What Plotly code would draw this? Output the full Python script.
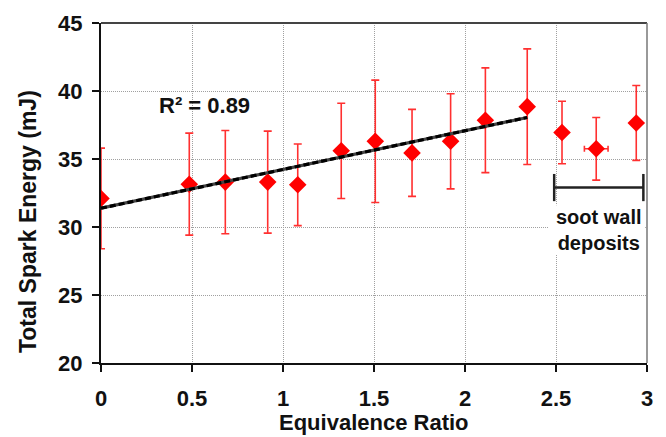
import numpy as np
import plotly.graph_objects as go

# ---- data ----
phi = [0.0, 0.485, 0.683, 0.916, 1.081, 1.32, 1.507, 1.709, 1.921, 2.112, 2.342, 2.533, 2.721, 2.941]
energy = [32.1, 33.15, 33.3, 33.3, 33.1, 35.6, 36.3, 35.45, 36.3, 37.85, 38.85, 36.95, 35.75, 37.65]
energy_err = [3.7, 3.75, 3.8, 3.75, 3.0, 3.5, 4.5, 3.2, 3.5, 3.85, 4.25, 2.3, 2.3, 2.75]
phi_err = [0, 0, 0, 0, 0, 0, 0, 0, 0, 0, 0, 0, 0.065, 0]
n_fit = 11  # points used for the linear trend (clean-wall data)

x_ticks = [0, 0.5, 1, 1.5, 2, 2.5, 3]
x_tick_labels = ["0", "0.5", "1", "1.5", "2", "2.5", "3"]
y_ticks = [20, 25, 30, 35, 40, 45]

bracket_x = [2.49, 2.98]
bracket_y = 32.9
r2_label_pos = (0.566, 38.95)
soot_label_pos = (2.735, 29.8)

# ---- trend line ----
fx = np.array(phi[:n_fit])
fy = np.array(energy[:n_fit])
slope, intercept = np.polyfit(fx, fy, 1)
pred = slope * fx + intercept
r2 = 1 - np.sum((fy - pred) ** 2) / np.sum((fy - fy.mean()) ** 2)
trend_x = [fx.min(), fx.max()]
trend_y = [slope * v + intercept for v in trend_x]

FONT = "Liberation Sans, Arial, sans-serif"
RED = "#ff0000"
ERR = "#ff3030"

fig = go.Figure()

fig.add_trace(go.Scatter(
    x=phi, y=energy, mode="markers",
    marker=dict(symbol="diamond", size=13.5, color=RED, line=dict(width=0)),
    error_y=dict(type="data", array=energy_err, visible=True, color=ERR, thickness=1.6, width=4),
    error_x=dict(type="data", array=phi_err, visible=True, color=ERR, thickness=1.6, width=3),
    showlegend=False, hoverinfo="skip",
))

fig.add_trace(go.Scatter(
    x=trend_x, y=trend_y, mode="lines",
    line=dict(color="#444444", width=3.2), showlegend=False, hoverinfo="skip",
))
fig.add_trace(go.Scatter(
    x=trend_x, y=trend_y, mode="lines",
    line=dict(color="#000000", width=3.2, dash="6px,3px"), showlegend=False, hoverinfo="skip",
))

# frame: top/right in gray
fig.add_shape(type="line", xref="paper", yref="paper", x0=0, x1=1, y0=1, y1=1,
              line=dict(color="#444444", width=1.8))
fig.add_shape(type="line", xref="paper", yref="paper", x0=1, x1=1, y0=0, y1=1,
              line=dict(color="#777777", width=1.5))

# white box behind soot label
fig.add_shape(type="rect", xref="x", yref="y", x0=2.46, x1=2.99, y0=28.0, y1=31.6,
              fillcolor="white", line=dict(width=0), layer="above")

# bracket
fig.add_shape(type="line", x0=bracket_x[0], x1=bracket_x[1], y0=bracket_y, y1=bracket_y,
              line=dict(color="#222222", width=2.5))
for bx in bracket_x:
    fig.add_shape(type="line", x0=bx, x1=bx, y0=bracket_y - 1.0, y1=bracket_y + 1.0,
                  line=dict(color="#222222", width=2.5))

fig.add_annotation(x=soot_label_pos[0], y=soot_label_pos[1], xref="x", yref="y",
                   text="soot wall<br>deposits", showarrow=False,
                   font=dict(family=FONT, size=20, color="#111111", weight="bold"),
                   align="center", xanchor="center", yanchor="middle")

fig.add_annotation(x=r2_label_pos[0], y=r2_label_pos[1], xref="x", yref="y",
                   text=f"R² = {r2:.2f}", showarrow=False, xanchor="center", yanchor="middle",
                   font=dict(family=FONT, size=22, color="#111111", weight="bold"))

# axis titles
fig.add_annotation(x=-0.134, y=0.417, xref="paper", yref="paper",
                   text="Total Spark Energy (mJ)", textangle=-90, showarrow=False,
                   xanchor="center", yanchor="middle",
                   font=dict(family=FONT, size=23, color="#111111", weight="bold"))
fig.add_annotation(x=0.5, y=-0.176, xref="paper", yref="paper",
                   text="Equivalence Ratio", showarrow=False,
                   xanchor="center", yanchor="middle",
                   font=dict(family=FONT, size=22, color="#111111", weight="bold"))

axis_common = dict(
    showgrid=True, gridcolor="#a0a0a0", gridwidth=1, griddash="1px,1px",
    showline=True, linecolor="#111111", linewidth=2,
    ticks="outside", ticklen=7, tickwidth=2, tickcolor="#111111",
    tickfont=dict(family=FONT, size=22, color="#111111", weight="bold"),
    zeroline=False,
)

fig.update_xaxes(range=[0, 3], tickvals=x_ticks, ticktext=x_tick_labels,
                 ticklabelstandoff=8, **axis_common)
fig.update_yaxes(range=[20, 45], tickvals=y_ticks, ticklabelstandoff=5, **axis_common)

fig.update_layout(
    width=666, height=437,
    margin=dict(l=101, r=19, t=23, b=74),
    paper_bgcolor="white", plot_bgcolor="white",
    font=dict(family=FONT),
)

fig.write_html("out.html")
